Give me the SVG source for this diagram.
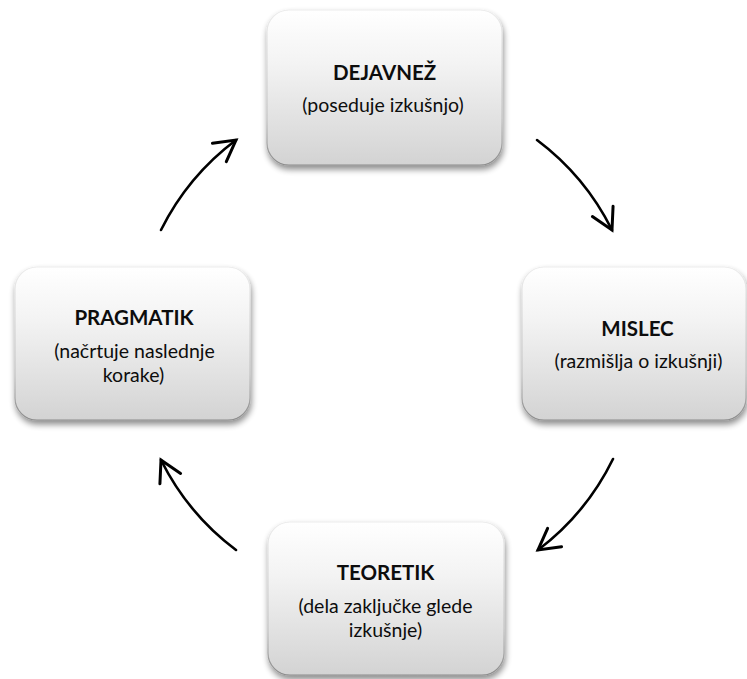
<svg xmlns="http://www.w3.org/2000/svg" width="747" height="679" viewBox="0 0 747 679">
<defs>
<linearGradient id="fillG" x1="0" y1="0" x2="0" y2="1">
<stop offset="0" stop-color="#ffffff"/>
<stop offset="0.35" stop-color="#f3f3f3"/>
<stop offset="1" stop-color="#d3d3d3"/>
</linearGradient>
<linearGradient id="strokeG" x1="0" y1="0" x2="0" y2="1">
<stop offset="0" stop-color="#ececec"/>
<stop offset="0.7" stop-color="#c4c4c4"/>
<stop offset="1" stop-color="#8a8a8a"/>
</linearGradient>
<filter id="sh" x="-10%" y="-10%" width="125%" height="130%">
<feGaussianBlur in="SourceAlpha" stdDeviation="3"/>
<feOffset dx="1" dy="4" result="b"/>
<feComponentTransfer><feFuncA type="linear" slope="0.45"/></feComponentTransfer>
<feMerge><feMergeNode/><feMergeNode in="SourceGraphic"/></feMerge>
</filter>
<marker id="ah" markerUnits="userSpaceOnUse" markerWidth="30" markerHeight="30" viewBox="-22 -13 26 26" refX="0" refY="0" orient="auto">
<path d="M-18,-10 L0,0 L-18,10" fill="none" stroke="#000" stroke-width="2.6" stroke-linecap="round" stroke-linejoin="miter"/>
</marker>
</defs>
<style>
.box{fill:url(#fillG);stroke:url(#strokeG);stroke-width:1.2;filter:url(#sh)}
.t{font-family:Lato,"Open Sans","DejaVu Sans",sans-serif;font-weight:bold;font-size:20.5px;fill:#0d0d0d;text-anchor:middle}
.s{font-family:Lato,"Open Sans","DejaVu Sans",sans-serif;font-size:19.5px;fill:#0d0d0d;text-anchor:middle}
.arr{fill:none;stroke:#000;stroke-width:2.6;stroke-linecap:round;marker-end:url(#ah)}
</style>
<g id="connectors">
<path class="arr" d="M537,140 A254,254 0 0 1 612,230"/>
<path class="arr" d="M613,459 A254,254 0 0 1 538,550"/>
<path class="arr" d="M236,550 A254,254 0 0 1 161,460"/>
<path class="arr" d="M161,230 A254,254 0 0 1 236,140"/>
</g>
<g id="dejavnez">
<rect class="box" x="267" y="10" width="235" height="155" rx="22"/>
<text class="t" x="384.5" y="80">DEJAVNEŽ</text>
<text class="s" x="383" y="112">(poseduje izkušnjo)</text>
</g>
<g id="mislec">
<rect class="box" x="522" y="267" width="224" height="153" rx="22"/>
<text class="t" x="637.5" y="336">MISLEC</text>
<text class="s" x="638.5" y="368">(razmišlja o izkušnji)</text>
</g>
<g id="pragmatik">
<rect class="box" x="15" y="267" width="235" height="153" rx="22"/>
<text class="t" x="134" y="325">PRAGMATIK</text>
<text class="s" x="134.5" y="358">(načrtuje naslednje</text>
<text class="s" x="133.5" y="382">korake)</text>
</g>
<g id="teoretik">
<rect class="box" x="268" y="522" width="236" height="153" rx="22"/>
<text class="t" x="385.5" y="580">TEORETIK</text>
<text class="s" x="385.5" y="613">(dela zaključke glede</text>
<text class="s" x="385.5" y="637">izkušnje)</text>
</g>
</svg>
